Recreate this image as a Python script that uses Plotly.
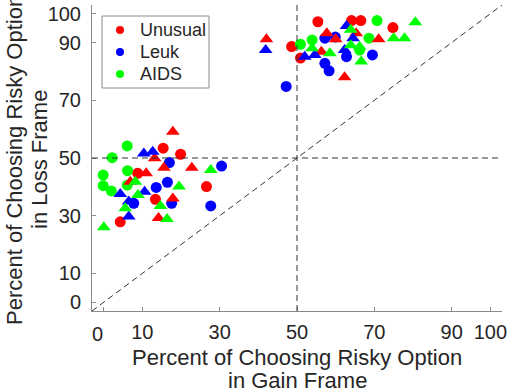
import plotly.graph_objects as go

# ---- data (percent risky choice: gain frame x, loss frame y) ----
unusual_circle_x = [55.4, 64.1, 66.5, 74.8, 48.6, 50.9, 15.4, 19.9, 8.8, 13.4, 26.6, 4.3]
unusual_circle_y = [97.2, 97.6, 97.6, 95.2, 88.6, 84.6, 53.4, 51.3, 44.7, 35.7, 40.1, 27.9]
unusual_tri_x = [42.1, 57.7, 60.0, 65.3, 71.1, 56.3, 62.3, 17.9, 13.2, 15.6, 22.8, 6.9, 11.0, 17.9, 14.2]
unusual_tri_y = [91.1, 93.2, 91.1, 93.2, 91.1, 86.8, 78.0, 59.1, 49.9, 46.6, 46.6, 41.8, 44.7, 36.0, 29.2]

leuk_circle_x = [57.2, 59.9, 69.5, 62.8, 57.2, 58.3, 47.2, 17.0, 13.6, 7.8, 16.5, 17.6, 30.5, 27.7]
leuk_circle_y = [91.5, 91.9, 85.7, 85.1, 82.8, 80.2, 74.8, 48.4, 39.8, 34.3, 41.6, 34.3, 47.2, 33.4]
leuk_tri_x = [41.9, 62.8, 64.5, 62.3, 52.0, 54.6, 10.4, 12.7, 4.3, 10.6, 6.5, 6.5]
leuk_tri_y = [87.4, 95.7, 91.5, 87.4, 85.1, 85.7, 51.6, 52.2, 37.5, 38.3, 34.9, 29.7]

aids_circle_x = [70.7, 50.9, 53.9, 68.6, 66.2, 6.1, 2.2, -0.1, -0.1, 2.0, 6.2, 6.1]
aids_circle_y = [97.6, 89.4, 90.9, 91.5, 87.4, 54.2, 50.1, 44.1, 40.4, 38.6, 45.6, 40.6]
aids_tri_x = [80.6, 63.9, 75.0, 77.8, 53.9, 63.9, 66.2, 58.5, 66.6, 8.2, 8.9, 5.6, 14.7, 0.05, 16.4, 27.7, 19.5]
aids_tri_y = [97.0, 94.4, 91.5, 91.5, 88.0, 89.1, 88.5, 86.3, 83.4, 41.8, 37.2, 32.6, 33.4, 26.0, 28.9, 45.8, 40.1]

groups = ["Unusual", "Leuk", "AIDS"]
group_colors = ["#ff0000", "#0000ff", "#00ff00"]

x_ticks = [10, 30, 50, 70, 90, 100]
y_ticks = [0, 10, 30, 50, 70, 90, 100]
x_title = ["Percent of Choosing Risky Option", "in Gain Frame"]
y_title = ["Percent of Choosing Risky Option", "in Loss Frame"]

FONT = "Liberation Sans, Arial, Helvetica, sans-serif"
TXT = "#262626"
AX = "#8a8a8a"

# plot area in pixels
W, H = 507, 392
L, R, T, B = 92, 5, 5, 81
PW, PH = W - L - R, H - T - B


def px_x(X):
    return (X - L) / PW


def px_y(Y):
    return (H - B - Y) / PH


fig = go.Figure()

circle_sets = [(unusual_circle_x, unusual_circle_y), (leuk_circle_x, leuk_circle_y), (aids_circle_x, aids_circle_y)]
tri_sets = [(unusual_tri_x, unusual_tri_y), (leuk_tri_x, leuk_tri_y), (aids_tri_x, aids_tri_y)]

for (xs, ys), col, name in zip(circle_sets, group_colors, groups):
    fig.add_trace(go.Scatter(x=xs, y=ys, mode="markers", name=name, showlegend=False,
                             marker=dict(symbol="circle", size=11, color=col, line=dict(width=0))))
for (xs, ys), col, name in zip(tri_sets, group_colors, groups):
    fig.add_trace(go.Scatter(x=xs, y=ys, mode="markers", name=name, showlegend=False,
                             marker=dict(symbol="triangle-up", size=12, color=col, line=dict(width=0))))

# dashed reference lines
dash = dict(color="#333333", width=1, dash="6px,4px")
fig.add_shape(type="line", xref="x", yref="y", x0=-3, y0=-3, x1=103, y1=103, line=dash)
fig.add_shape(type="line", xref="x", yref="y", x0=-3, y0=50, x1=103, y1=50, line=dash)
fig.add_shape(type="line", xref="x", yref="y", x0=50, y0=-3, x1=50, y1=103, line=dash)

# legend box (drawn)
fig.add_shape(type="rect", xref="paper", yref="paper",
              x0=px_x(102), x1=px_x(209), y0=px_y(88), y1=px_y(16),
              line=dict(color=AX, width=1), fillcolor="white", layer="above")
for i, (name, col) in enumerate(zip(groups, group_colors)):
    yc = 30 + 22 * i
    fig.add_shape(type="circle", xref="paper", yref="paper",
                  xsizemode="pixel", ysizemode="pixel",
                  xanchor=px_x(120), yanchor=px_y(yc), x0=-4, x1=4, y0=-4, y1=4,
                  fillcolor=col, line=dict(width=0), layer="above")
    fig.add_annotation(x=px_x(138), y=px_y(yc), xref="paper", yref="paper",
                       xanchor="left", yanchor="middle", text=name, showarrow=False,
                       font=dict(family=FONT, size=18, color=TXT))

# x tick label "0" (drawn slightly left of its tick, as in the reference)
fig.add_annotation(x=px_x(97), y=0, xref="paper", yref="paper", xanchor="center", yanchor="top",
                   yshift=-10, text="0", showarrow=False, font=dict(family=FONT, size=20, color=TXT))

# axis titles
fig.add_annotation(x=0.5, y=px_y(357), xref="paper", yref="paper", xanchor="center", yanchor="middle",
                   text=x_title[0], showarrow=False, font=dict(family=FONT, size=22, color=TXT))
fig.add_annotation(x=0.5, y=px_y(380), xref="paper", yref="paper", xanchor="center", yanchor="middle",
                   text=x_title[1], showarrow=False, font=dict(family=FONT, size=22, color=TXT))
fig.add_annotation(x=px_x(14), y=px_y(160), xref="paper", yref="paper", xanchor="center", yanchor="middle",
                   text=y_title[0], textangle=-90, showarrow=False, font=dict(family=FONT, size=22, color=TXT))
fig.add_annotation(x=px_x(39), y=px_y(160), xref="paper", yref="paper", xanchor="center", yanchor="middle",
                   text=y_title[1], textangle=-90, showarrow=False, font=dict(family=FONT, size=22, color=TXT))

fig.update_layout(
    width=W, height=H,
    margin=dict(l=L, r=R, t=T, b=B),
    plot_bgcolor="white", paper_bgcolor="white",
    font=dict(family=FONT, color=TXT),
    showlegend=False,
    xaxis=dict(range=[-3, 103], tickvals=[0] + x_ticks, ticktext=[""] + [str(v) for v in x_ticks],
               ticks="inside", ticklen=4, tickcolor=AX, showline=True, linecolor=AX, linewidth=1,
               showgrid=False, zeroline=False, tickfont=dict(family=FONT, size=20, color=TXT),
               ticklabelstandoff=3, automargin=False, ticklabeloverflow="allow"),
    yaxis=dict(range=[-3, 103], tickvals=y_ticks, ticktext=[str(v) for v in y_ticks],
               ticks="inside", ticklen=4, tickcolor=AX, showline=True, linecolor=AX, linewidth=1,
               showgrid=False, zeroline=False, tickfont=dict(family=FONT, size=20, color=TXT),
               ticklabelstandoff=6, automargin=False, ticklabeloverflow="allow"),
)

fig.write_html("out.html", config={"displayModeBar": False},
               post_script="document.body.style.margin='0px';")
